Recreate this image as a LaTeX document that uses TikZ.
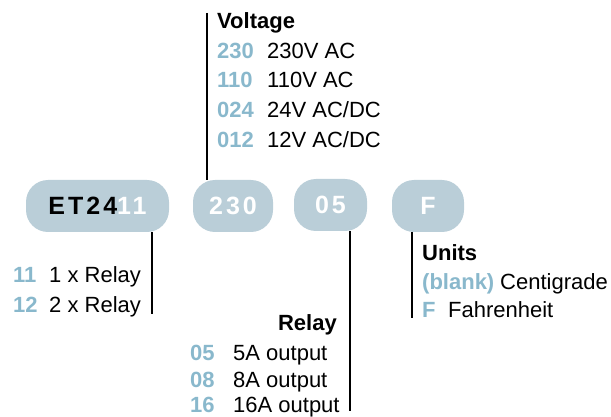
\documentclass[tikz,border=0pt]{standalone}
\usepackage{fontspec}
\setmainfont{Liberation Sans}
\newfontfamily\pillfont[LetterSpace=12]{Liberation Sans}
\usepackage{tikz}
\usetikzlibrary{positioning}
\definecolor{pillgray}{RGB}{186,206,216}
\definecolor{codeblue}{RGB}{137,184,204}

\begin{document}
\begin{tikzpicture}[x=1pt, y=-1pt,
        pill/.style={fill=pillgray, rounded corners=22pt, minimum height=52pt,
          inner sep=0pt, font=\pillfont\fontsize{25}{25}\selectfont\bfseries, text=white},
        item/.style={anchor=base west, inner sep=0pt, font=\fontsize{22}{26}\selectfont},
        code/.style={item, text=codeblue, font=\fontsize{22}{26}\selectfont\bfseries},
        head/.style={item, font=\fontsize{22}{26}\selectfont\bfseries},
        lead/.style={line width=1.8pt}]
      \useasboundingbox (0,0) rectangle (611,417);
      % part number boxes
      \node[pill, minimum width=143pt] (et) at (97.5,206) {\textcolor{black}{ET24}11};
      \node[pill, minimum width=80pt] (volt) at (233,206) {230};
      \node[pill, minimum width=73pt] (rel) at (330.5,205) {05};
      \node[pill, minimum width=72pt] (unit) at (428,206) {F};
      % relay count
      \coordinate (etend) at (152,314);
      \draw[lead] (etend |- et.south) -- (etend);
      \node[code] (c11) at (13,282) {11};
      \node[item] (d11) at (49,282) {1 x Relay};
      \node[code] (c12) at (13,312) {12};
      \node[item] (d12) at (49,312) {2 x Relay};
      % voltage
      \coordinate (vtop) at (207,13);
      \draw[lead] (vtop) -- (vtop |- volt.north);
      \node[head] (vh) at (217,29) {Voltage};
      \node[code] (c230) at (217,59) {230};
      \node[item] (d230) at (267,59) {230V AC};
      \node[code] (c110) at (217,88) {110};
      \node[item] (d110) at (267,88) {110V AC};
      \node[code] (c024) at (217,118) {024};
      \node[item] (d024) at (267,118) {24V AC/DC};
      \node[code] (c012) at (217,148) {012};
      \node[item] (d012) at (267,148) {12V AC/DC};
      % relay output
      \coordinate (rend) at (350,411);
      \draw[lead] (rend |- rel.south) -- (rend);
      \node[head, anchor=base east] (rh) at (337,330) {Relay};
      \node[code] (c05) at (190,360) {05};
      \node[item] (d05) at (233,360) {5A output};
      \node[code] (c08) at (190,387) {08};
      \node[item] (d08) at (233,387) {8A output};
      \node[code] (c16) at (190,412) {16};
      \node[item] (d16) at (233,412) {16A output};
      % units
      \coordinate (uend) at (412,318);
      \draw[lead] (uend |- unit.south) -- (uend);
      \node[head] (uh) at (422,261) {Units};
      \node[code] (cblank) at (422,289) {(blank)};
      \node[item] (dblank) at (500,289) {Centigrade};
      \node[code] (cf) at (422,317) {F};
      \node[item] (df) at (448,317) {Fahrenheit};
\end{tikzpicture}
\end{document}
